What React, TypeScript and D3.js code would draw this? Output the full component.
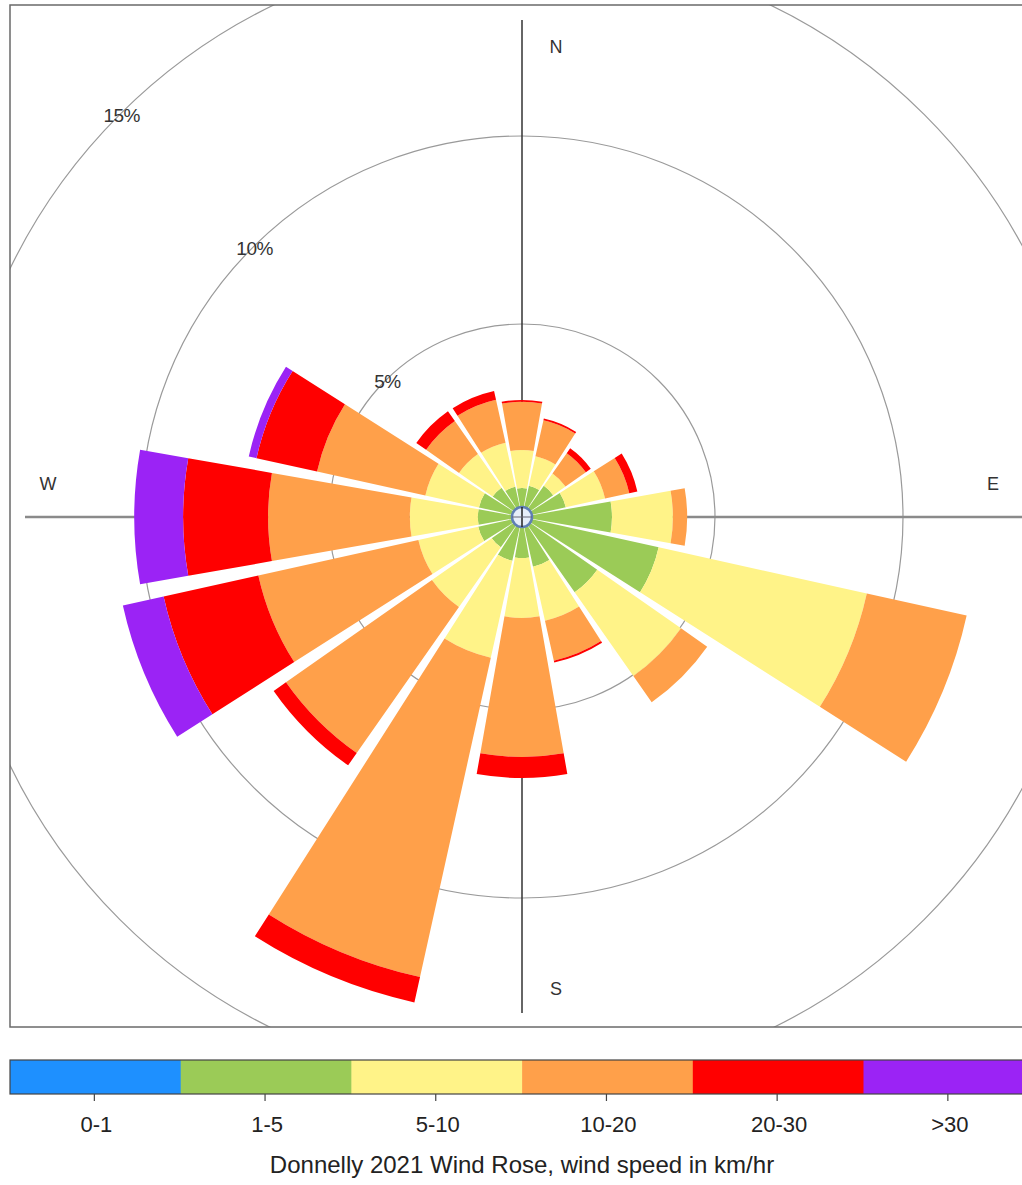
import React from "react";
import * as d3 from "d3";

const directions = ["N", "NNE", "NE", "ENE", "E", "ESE", "SE", "SSE", "S", "SSW", "SW", "WSW", "W", "WNW", "NW", "NNW"];
const speedBins = ["0-1", "1-5", "5-10", "10-20", "20-30", ">30"];
const binColors = ["#1E90FF", "#9BCB57", "#FFF388", "#FFA04A", "#FF0000", "#9B23F5"];

// percentage of time per direction for each speed bin
const speed0to1 = [0.05, 0.05, 0.05, 0.05, 0.05, 0.05, 0.05, 0.05, 0.05, 0.05, 0.05, 0.05, 0.05, 0.05, 0.05, 0.05];
const speed1to5 = [0.59, 0.67, 0.83, 1.01, 2.21, 3.54, 2.26, 1.17, 0.91, 1.01, 0.8, 1.01, 0.99, 0.99, 0.77, 0.64];
const speed5to10 = [1.01, 0.8, 0.4, 1.07, 1.62, 5.67, 2.72, 1.47, 1.59, 2.64, 1.94, 1.63, 1.81, 1.46, 1.09, 1.2];
const speed10to20 = [1.28, 0.98, 0.66, 0.66, 0.38, 2.72, 0.85, 1.09, 3.7, 8.7, 4.74, 4.36, 3.77, 2.95, 1.07, 1.17];
const speed20to30 = [0.05, 0.05, 0.16, 0.22, 0, 0, 0, 0.05, 0.56, 0.69, 0.4, 2.58, 2.26, 1.65, 0.32, 0.24];
const speed30plus = [0, 0, 0, 0, 0, 0, 0, 0, 0, 0, 0, 1.11, 1.3, 0.21, 0, 0];

const ringTicks = [5, 10, 15];
const ringLabels = ["5%", "10%", "15%"];
const compassLabels = ["N", "E", "S", "W"];
const title = "Donnelly 2021 Wind Rose, wind speed in km/hr";

const W = 1022;
const H = 1185;
const cx = 522;
const cy = 517;
const FONT = "'Liberation Sans', Arial, Helvetica, sans-serif";

export default function App() {
  const series = [speed0to1, speed1to5, speed5to10, speed10to20, speed20to30, speed30plus];
  const r = d3.scaleLinear().domain([0, 15]).range([5, 569]);
  const sectorWidth = (20 * Math.PI) / 180;
  const arcGen = d3.arc<any>();

  const wedges: { d: string; fill: string; key: string }[] = [];
  directions.forEach((dir, i) => {
    const center = (i * 22.5 * Math.PI) / 180;
    let cum = 0;
    series.forEach((s, b) => {
      const v = s[i];
      if (v <= 0) return;
      const inner = cum;
      cum += v;
      const d = arcGen({
        innerRadius: r(inner),
        outerRadius: r(cum),
        startAngle: center - sectorWidth / 2,
        endAngle: center + sectorWidth / 2,
      }) as string;
      wedges.push({ d, fill: binColors[b], key: `${dir}-${b}` });
    });
  });

  const labelAngle = (315 * Math.PI) / 180;

  // colorbar
  const cbX0 = 10;
  const cbSeg = 170.7;
  const cbY = 1060;
  const cbH = 34;
  const cbScale = d3.scaleBand().domain(speedBins).range([cbX0, cbX0 + cbSeg * speedBins.length]);

  return (
    <svg
      width={W}
      height={H}
      style={{ position: "absolute", left: 0, top: 0, display: "block", background: "#fff" }}
      fontFamily={FONT}
    >
      <defs>
        <clipPath id="panel">
          <rect x={10} y={5} width={1040} height={1022} />
        </clipPath>
      </defs>
      <g clipPath="url(#panel)">
        {ringTicks.map((t) => (
          <circle key={t} cx={cx} cy={cy} r={r(t)} fill="none" stroke="#9a9a9a" strokeWidth={1.2} />
        ))}
        <line x1={cx} x2={cx} y1={20} y2={1013} stroke="#333" strokeWidth={1.5} />
        <line x1={25} x2={1040} y1={cy} y2={cy} stroke="#8a8a8a" strokeWidth={2.5} />
        <g transform={`translate(${cx},${cy})`}>
          {wedges.map((w) => (
            <path key={w.key} d={w.d} fill={w.fill} />
          ))}
        </g>
        <circle cx={cx} cy={cy} r={10} fill="#e6eefa" stroke="#5f7fb5" strokeWidth={2.5} />
        <line x1={cx} x2={cx} y1={cy - 10} y2={cy + 10} stroke="#222" strokeWidth={1.5} />
        <line x1={cx - 10} x2={cx + 10} y1={cy} y2={cy} stroke="#667" strokeWidth={1} />
        {ringTicks.map((t, i) => (
          <text
            key={`lbl-${t}`}
            x={cx + r(t) * Math.sin(labelAngle) + 2}
            y={cy - r(t) * Math.cos(labelAngle) + 2}
            fontSize={19}
            fill="#333"
            textAnchor="middle"
            dominantBaseline="middle"
            letterSpacing={-0.5}
          >
            {ringLabels[i]}
          </text>
        ))}
        <text x={556} y={48} fontSize={18} fill="#333" textAnchor="middle" dominantBaseline="middle">
          {compassLabels[0]}
        </text>
        <text x={993} y={485} fontSize={18} fill="#333" textAnchor="middle" dominantBaseline="middle">
          {compassLabels[1]}
        </text>
        <text x={556} y={990} fontSize={18} fill="#333" textAnchor="middle" dominantBaseline="middle">
          {compassLabels[2]}
        </text>
        <text x={48} y={485} fontSize={18} fill="#333" textAnchor="middle" dominantBaseline="middle">
          {compassLabels[3]}
        </text>
      </g>
      <rect x={10} y={5} width={1040} height={1022} fill="none" stroke="#6a6a6a" strokeWidth={1.5} />

      {/* colorbar */}
      <g>
        {speedBins.map((b, i) => (
          <rect key={b} x={cbScale(b)} y={cbY} width={cbScale.bandwidth() + 0.5} height={cbH} fill={binColors[i]} />
        ))}
        <rect x={cbX0} y={cbY} width={cbSeg * speedBins.length} height={cbH} fill="none" stroke="#444" strokeWidth={1.2} />
        {speedBins.map((b) => {
          const x = (cbScale(b) as number) + cbScale.bandwidth() / 2 - 1;
          return (
            <g key={`t-${b}`}>
              <line x1={x} x2={x} y1={cbY + cbH} y2={cbY + cbH + 7} stroke="#444" strokeWidth={1.2} />
              <text x={x + 2} y={1126} fontSize={22} fill="#222" textAnchor="middle" dominantBaseline="middle">
                {b}
              </text>
            </g>
          );
        })}
        <text x={522} y={1167} fontSize={24} fill="#222" textAnchor="middle" dominantBaseline="middle">
          {title}
        </text>
      </g>
    </svg>
  );
}
